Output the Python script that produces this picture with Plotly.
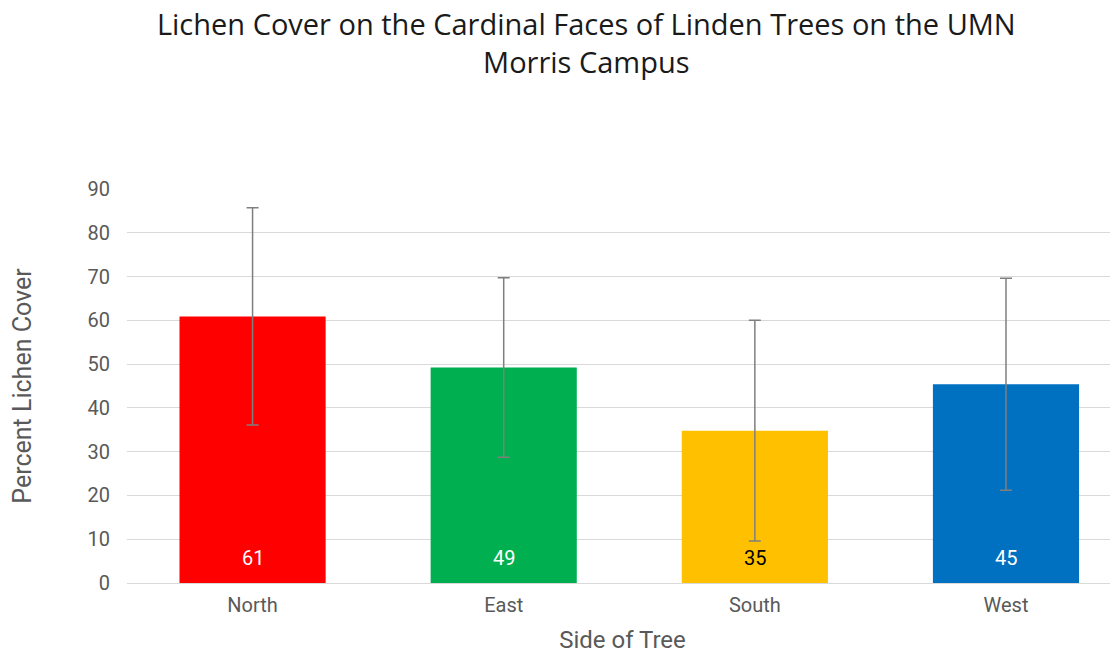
import plotly.graph_objects as go

categories = ["North", "East", "South", "West"]
means = [60.9, 49.2, 34.8, 45.4]
errors = [24.8, 20.5, 25.2, 24.2]
labels = ["61", "49", "35", "45"]
colors = ["#FF0000", "#00B050", "#FFC000", "#0070C0"]
label_colors = ["white", "white", "black", "white"]
y_ticks = [0, 10, 20, 30, 40, 50, 60, 70, 80, 90]

fig = go.Figure()
fig.add_trace(go.Bar(
    x=categories, y=means,
    marker=dict(color=colors, line=dict(width=0)),
    width=0.582,
    error_y=dict(type="data", array=errors, visible=True,
                 color="#7f7f7f", thickness=1.5, width=6),
    hoverinfo="skip",
))

for c, lab, lc in zip(categories, labels, label_colors):
    fig.add_annotation(x=c, y=0, xref="x", yref="y", text=lab,
                       showarrow=False, yanchor="middle", yshift=25,
                       font=dict(family="Roboto", size=20, color=lc))

fig.update_layout(
    width=1110, height=646,
    paper_bgcolor="white", plot_bgcolor="white",
    margin=dict(l=119, r=0, t=181, b=71),
    showlegend=False,
    title=dict(text="Lichen Cover on the Cardinal Faces of Linden Trees on the UMN<br>Morris Campus",
               x=0.521, xanchor="center", y=0.958, yanchor="top", yref="container",
               font=dict(family="Open Sans", size=29, color="#1a1a1a")),
    xaxis=dict(range=[-0.5, 3.446], showgrid=False, zeroline=False, showline=False,
               ticks="", ticklabelstandoff=8,
               tickfont=dict(family="Roboto", size=20, color="#595959"),
               title=dict(text="Side of Tree", standoff=16,
                          font=dict(family="Roboto", size=24, color="#595959"))),
    yaxis=dict(range=[0, 90], tickvals=y_ticks, showgrid=True, gridcolor="#d9d9d9",
               gridwidth=1, zeroline=True, zerolinecolor="#d9d9d9", zerolinewidth=1,
               showline=False, ticks="", ticklabelstandoff=16,
               tickfont=dict(family="Roboto", size=20, color="#595959"),
               title=dict(text="Percent Lichen Cover", standoff=50,
                          font=dict(family="Roboto", size=25, color="#595959"))),
)

fig.write_html("out.html")
